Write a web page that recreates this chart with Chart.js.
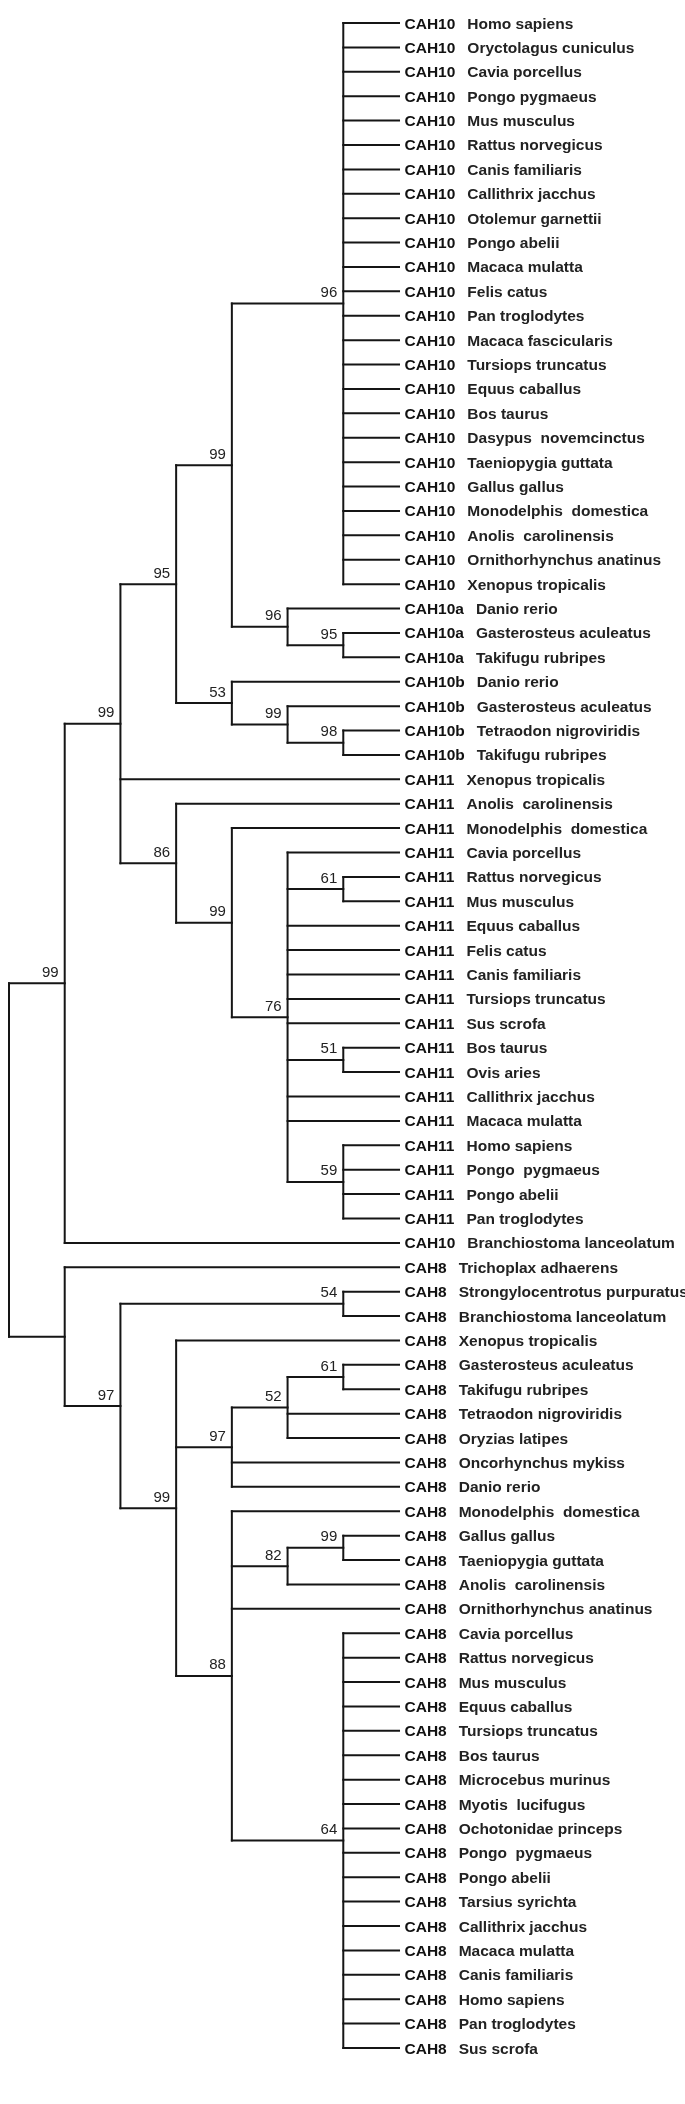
<!DOCTYPE html>
<html>
<head>
<meta charset="utf-8">
<script src="https://cdn.jsdelivr.net/npm/chart.js@4.4.1/dist/chart.umd.min.js"></script>
<style>
  html, body { margin: 0; padding: 0; background: #ffffff; }
  #wrap { width: 685px; height: 2104px; position: relative; }
  canvas { display: block; }
</style>
</head>
<body>
<div id="wrap"><canvas id="c" width="685" height="2104"></canvas></div>
<script>
// ---- Leaf labels (top to bottom) ----
const leafGenes = [
  'CAH10','CAH10','CAH10','CAH10','CAH10','CAH10','CAH10','CAH10','CAH10','CAH10','CAH10','CAH10',
  'CAH10','CAH10','CAH10','CAH10','CAH10','CAH10','CAH10','CAH10','CAH10','CAH10','CAH10','CAH10',
  'CAH10a','CAH10a','CAH10a',
  'CAH10b','CAH10b','CAH10b','CAH10b',
  'CAH11','CAH11','CAH11','CAH11','CAH11','CAH11','CAH11','CAH11','CAH11','CAH11',
  'CAH11','CAH11','CAH11','CAH11','CAH11','CAH11','CAH11','CAH11','CAH11',
  'CAH10',
  'CAH8','CAH8','CAH8','CAH8','CAH8','CAH8','CAH8','CAH8','CAH8','CAH8','CAH8',
  'CAH8','CAH8','CAH8','CAH8','CAH8','CAH8','CAH8','CAH8','CAH8','CAH8','CAH8',
  'CAH8','CAH8','CAH8','CAH8','CAH8','CAH8','CAH8','CAH8','CAH8','CAH8','CAH8'
];
const leafSpecies = [
  'Homo sapiens','Oryctolagus cuniculus','Cavia porcellus','Pongo pygmaeus','Mus musculus',
  'Rattus norvegicus','Canis familiaris','Callithrix jacchus','Otolemur garnettii','Pongo abelii',
  'Macaca mulatta','Felis catus','Pan troglodytes','Macaca fascicularis','Tursiops truncatus',
  'Equus caballus','Bos taurus','Dasypus  novemcinctus','Taeniopygia guttata','Gallus gallus',
  'Monodelphis  domestica','Anolis  carolinensis','Ornithorhynchus anatinus','Xenopus tropicalis',
  'Danio rerio','Gasterosteus aculeatus','Takifugu rubripes',
  'Danio rerio','Gasterosteus aculeatus','Tetraodon nigroviridis','Takifugu rubripes',
  'Xenopus tropicalis','Anolis  carolinensis','Monodelphis  domestica','Cavia porcellus',
  'Rattus norvegicus','Mus musculus','Equus caballus','Felis catus','Canis familiaris',
  'Tursiops truncatus','Sus scrofa','Bos taurus','Ovis aries','Callithrix jacchus',
  'Macaca mulatta','Homo sapiens','Pongo  pygmaeus','Pongo abelii','Pan troglodytes',
  'Branchiostoma lanceolatum',
  'Trichoplax adhaerens','Strongylocentrotus purpuratus','Branchiostoma lanceolatum',
  'Xenopus tropicalis','Gasterosteus aculeatus','Takifugu rubripes','Tetraodon nigroviridis',
  'Oryzias latipes','Oncorhynchus mykiss','Danio rerio','Monodelphis  domestica',
  'Gallus gallus','Taeniopygia guttata','Anolis  carolinensis','Ornithorhynchus anatinus',
  'Cavia porcellus','Rattus norvegicus','Mus musculus','Equus caballus','Tursiops truncatus',
  'Bos taurus','Microcebus murinus','Myotis  lucifugus','Ochotonidae princeps','Pongo  pygmaeus',
  'Pongo abelii','Tarsius syrichta','Callithrix jacchus','Macaca mulatta','Canis familiaris',
  'Homo sapiens','Pan troglodytes','Sus scrofa'
];
const leafDepth = 7;

// ---- Internal nodes: name, depth (0 = root), bootstrap label, children (leaf index or node name) ----
const nodeNames    = ['A96','A95','A96b','A99','B98','B99','B53','C95',
                      'D61','D51','D59','D76','D99','D86','E99','F99',
                      'G54','G61','G52','G97','G99b','G82','G64','G88','G99','G97a','H','root'];
const nodeDepths   = [6,6,5,4,6,5,4,3,
                      6,6,6,5,4,3,2,1,
                      6,6,5,4,6,5,6,4,3,2,1,0];
const nodeSupport  = ['96','95','96','99','98','99','53','95',
                      '61','51','59','76','99','86','99','99',
                      '54','61','52','97','99','82','64','88','99','97','',''];
const nodeChildren = [
  [0,1,2,3,4,5,6,7,8,9,10,11,12,13,14,15,16,17,18,19,20,21,22,23],
  [25,26],
  [24,'A95'],
  ['A96','A96b'],
  [29,30],
  [28,'B98'],
  [27,'B99'],
  ['A99','B53'],
  [35,36],
  [42,43],
  [46,47,48,49],
  [34,'D61',37,38,39,40,41,'D51',44,45,'D59'],
  [33,'D76'],
  [32,'D99'],
  ['C95',31,'D86'],
  ['E99',50],
  [52,53],
  [55,56],
  ['G61',57,58],
  ['G52',59,60],
  [62,63],
  ['G99b',64],
  [66,67,68,69,70,71,72,73,74,75,76,77,78,79,80,81,82,83],
  [61,'G82',65,'G64'],
  [54,'G97','G88'],
  ['G54','G99'],
  [51,'G97a'],
  ['F99','H']
];

// ---- Build geometry from tree structure ----
const nodeIndex = {};
nodeNames.forEach((n, i) => nodeIndex[n] = i);
const posCache = {};
function pos(ref) {
  if (typeof ref === 'number') return { x: leafDepth, y: ref };
  if (posCache[ref]) return posCache[ref];
  const i = nodeIndex[ref];
  const ch = nodeChildren[i];
  const y = (pos(ch[0]).y + pos(ch[ch.length - 1]).y) / 2;
  posCache[ref] = { x: nodeDepths[i], y: y };
  return posCache[ref];
}

const segData = [];
nodeNames.forEach((n, i) => {
  const p = pos(n);
  const ch = nodeChildren[i];
  const y0 = pos(ch[0]).y, y1 = pos(ch[ch.length - 1]).y;
  segData.push([{ x: p.x, y: y0 }, { x: p.x, y: y1 }]);
  ch.forEach(c => {
    const cp = pos(c);
    segData.push([{ x: p.x, y: cp.y }, { x: cp.x, y: cp.y }]);
  });
});

const datasets = segData.map(d => ({
  data: d,
  showLine: true,
  borderColor: '#151515',
  borderWidth: 2,
  borderCapStyle: 'square',
  pointRadius: 0,
  pointHoverRadius: 0,
  clip: false
}));

const labelPlugin = {
  id: 'treeLabels',
  afterDatasetsDraw(chart) {
    const ctx = chart.ctx;
    const xs = chart.scales.x, ys = chart.scales.y;
    ctx.save();
    // support values
    ctx.font = '15px "Liberation Sans", Arial, sans-serif';
    ctx.fillStyle = '#222';
    ctx.textAlign = 'right';
    ctx.textBaseline = 'alphabetic';
    nodeNames.forEach((n, i) => {
      if (!nodeSupport[i]) return;
      const p = pos(n);
      ctx.fillText(nodeSupport[i], xs.getPixelForValue(p.x) - 6, ys.getPixelForValue(p.y) - 6.5);
    });
    // leaf labels
    ctx.textAlign = 'left';
    ctx.font = 'bold 15.5px "Liberation Sans", Arial, sans-serif';
    const gx = xs.getPixelForValue(leafDepth) + 5.5;
    leafGenes.forEach((g, i) => {
      const y = ys.getPixelForValue(i) + 5.5;
      ctx.fillStyle = '#111';
      ctx.fillText(g, gx, y);
      const w = ctx.measureText(g).width;
      ctx.fillStyle = '#222';
      ctx.fillText(leafSpecies[i], gx + w + 12, y);
    });
    ctx.restore();
  }
};

new Chart(document.getElementById('c'), {
  type: 'scatter',
  data: { datasets: datasets },
  options: {
    responsive: false,
    animation: false,
    events: [],
    layout: { padding: { left: 9, right: 286, top: 23, bottom: 56 } },
    plugins: { legend: { display: false }, tooltip: { enabled: false } },
    scales: {
      x: { type: 'linear', min: 0, max: leafDepth, display: false },
      y: { type: 'linear', min: 0, max: leafSpecies.length - 1, reverse: true, display: false }
    }
  },
  plugins: [labelPlugin]
});
</script>
</body>
</html>
